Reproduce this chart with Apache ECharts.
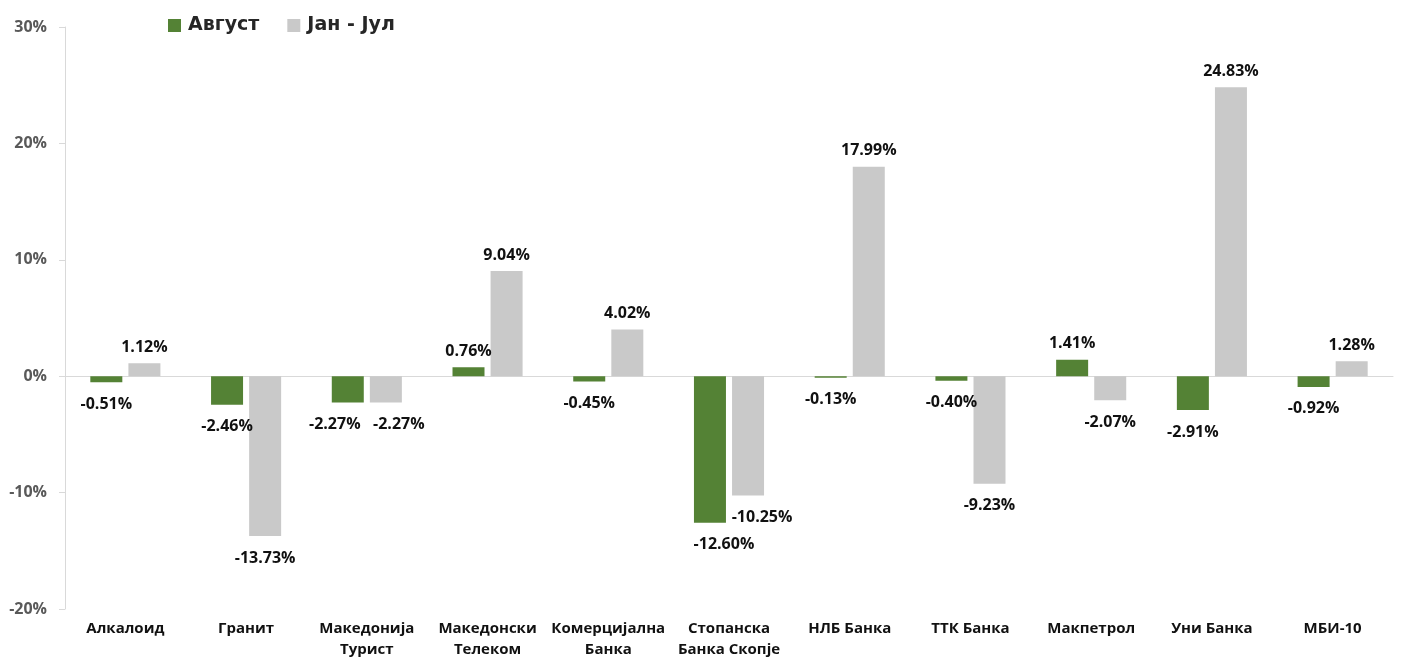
<!DOCTYPE html>
<html><head><meta charset="utf-8">
<script src="https://cdn.jsdelivr.net/npm/echarts@6/dist/echarts.min.js"></script>
<style>html,body{margin:0;padding:0;background:#fff}#c{width:1403px;height:658px}</style>
</head><body><div id="c"></div>
<script>
const categories = ['Алкалоид','Гранит','Македонија\nТурист','Македонски\nТелеком','Комерцијална\nБанка','Стопанска\nБанка Скопје','НЛБ Банка','ТТК Банка','Макпетрол','Уни Банка','МБИ-10'];
const august = [-0.51,-2.46,-2.27,0.76,-0.45,-12.60,-0.13,-0.40,1.41,-2.91,-0.92];
const janJul = [1.12,-13.73,-2.27,9.04,4.02,-10.25,17.99,-9.23,-2.07,24.83,1.28];
const seriesNames = ['Август','Јан - Јул'];
const yTicks = {min:-20,max:30,interval:10};

function labeled(vals, other, side){
  return vals.map((v,i)=>{
    const both = v<0 && other[i]<0;
    const d = Math.abs(v-other[i]);
    let dx = 0;
    if (both && d<1.5) dx = side*13;
    else if (both && d<3) dx = 14;
    return {value:v,label:{position:v>=0?'top':'bottom',distance:v>=0?8:14,offset:[dx,0]}};
  });
}
const lblStyle = {show:true,formatter:p=>p.value.toFixed(2)+'%',fontFamily:'Open Sans',fontWeight:'bold',fontSize:16,color:'#111'};
const chart = echarts.init(document.getElementById('c'));
chart.setOption({
  animation:false,
  legend:{left:163,top:11,itemWidth:13,itemHeight:13,itemGap:28,icon:'rect',
    textStyle:{fontFamily:'DejaVu Sans',fontWeight:'bold',fontSize:19,color:'#262626',padding:[0,0,0,2]},
    data:seriesNames},
  grid:{left:65,right:10,top:27,bottom:49,outerBoundsMode:'none',containLabel:false},
  xAxis:[
    {type:'category',data:categories,axisLine:{onZero:true,lineStyle:{color:'#d9d9d9'}},axisTick:{show:false},axisLabel:{show:false}},
    {type:'category',data:categories,position:'bottom',axisLine:{show:false},axisTick:{show:false},
     axisLabel:{interval:0,margin:9,fontFamily:'Open Sans',fontWeight:'bold',fontSize:15,color:'#111',lineHeight:21}}
  ],
  yAxis:{type:'value',min:yTicks.min,max:yTicks.max,interval:yTicks.interval,
    axisLine:{show:true,lineStyle:{color:'#d9d9d9'}},
    axisTick:{show:true,length:6,lineStyle:{color:'#d9d9d9'}},
    splitLine:{show:false},
    axisLabel:{formatter:'{value}%',margin:18,fontFamily:'Open Sans',fontWeight:'bold',fontSize:16,color:'#595959'}},
  series:[
    {name:seriesNames[0],type:'bar',xAxisIndex:0,barWidth:32,barGap:'19%',itemStyle:{color:'#548235'},label:lblStyle,data:labeled(august,janJul,-1)},
    {name:seriesNames[1],type:'bar',xAxisIndex:0,barWidth:32,barGap:'19%',itemStyle:{color:'#c9c9c9'},label:lblStyle,data:labeled(janJul,august,1)}
  ]
});
</script></body></html>
